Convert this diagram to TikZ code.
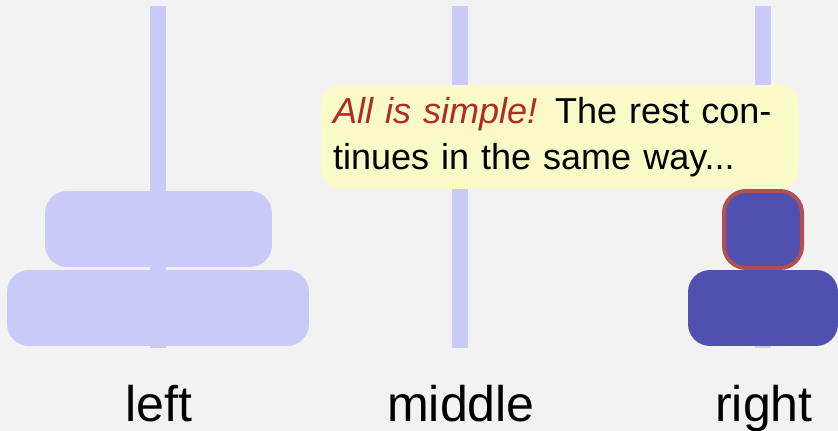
\documentclass[tikz,border=0pt]{standalone}
\usepackage{fontspec}
\setmainfont{Liberation Sans}
\usepackage{xcolor}
\usepackage{tikz}

\definecolor{fondo}{HTML}{F2F2F2}
\definecolor{varilla}{HTML}{CACAF8}
\definecolor{discoazul}{HTML}{4F50B0}
\definecolor{bordeRojo}{HTML}{B05050}
\definecolor{notaAmarilla}{HTML}{FAFAC8}
\definecolor{textoRojo}{HTML}{B02A2A}

\tikzset{
  disco/.style={rectangle, rounded corners=0.44cm, inner sep=0pt, fill=varilla},
  discoMovido/.style={disco, fill=discoazul},
  etiqueta/.style={anchor=base, inner sep=0pt, font=\fontsize{28.5}{34}\selectfont},
  nota/.style={rectangle, rounded corners=0.4cm, fill=notaAmarilla, align=left,
    minimum width=9.56cm, minimum height=2.08cm, inner xsep=0.24cm, text width=9.08cm,
    font=\fontsize{20.5}{26.2}\selectfont}
}

\begin{document}
\begin{tikzpicture}[x=0.02cm, y=-0.02cm]
  % Fondo
  \fill[fondo] (0,0) rectangle (838,431);
  \useasboundingbox (0,0) rectangle (838,431);

  % Varillas
  \fill[varilla] (150,6) rectangle (166,348);
  \fill[varilla] (452,6) rectangle (468,348);
  \fill[varilla] (755,6) rectangle (771,348);

  % Discos en la varilla izquierda
  \node[disco, minimum width=4.54cm, minimum height=1.52cm] (izqArriba) at (158.5,229) {};
  \node[disco, minimum width=6.04cm, minimum height=1.52cm] (izqAbajo) at (158,308) {};

  % Discos en la varilla derecha
  \node[discoMovido, minimum width=3cm, minimum height=1.52cm] (derAbajo) at (763,308) {};
  \node[discoMovido, draw=bordeRojo, line width=0.08cm, minimum width=1.56cm, minimum height=1.54cm] (derArriba) at (763,229.5) {};

  % Nombres de las varillas
  \node[etiqueta] (nomIzq) at (159,422) {left};
  \node[etiqueta] (nomMedio) at (461,422) {middle};
  \node[etiqueta] (nomDer) at (764,422) {right};

  % Nota
  \node[nota] (comentario) at (560,137) {\textcolor{textoRojo}{\itshape All is simple!} The rest con-\\tinues in the same way...};
\end{tikzpicture}
\end{document}
